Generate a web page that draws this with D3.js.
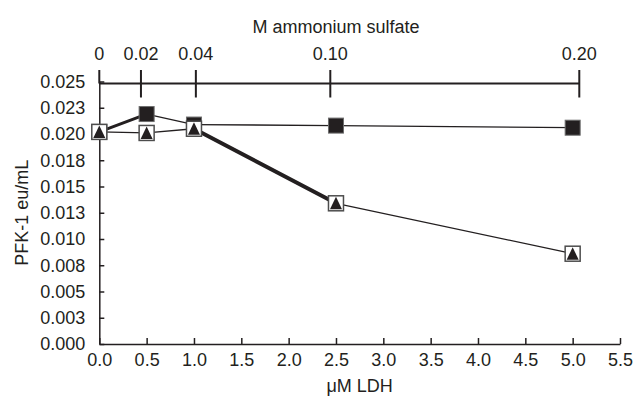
<!DOCTYPE html>
<html>
<head>
<meta charset="utf-8">
<script src="https://cdn.jsdelivr.net/npm/d3@7"></script>
<style>
	body { margin: 0; background: #fff; }
	text { font-family: "Liberation Sans", Arial, sans-serif; fill: #231f20; }
</style>
</head>
<body>
<div id="chart"></div>
<script>
// values
var ldh = [0, 0.5, 1.0, 2.5, 5.0];
var filledSquares = [0.0202, 0.0219, 0.0209, 0.0208, 0.0206];
var openSquares = [0.0202, 0.0201, 0.0205, 0.0134, 0.0086];
var triangles = [0.0202, 0.0201, 0.0205, 0.0134, 0.0086];

var sulfateTicks = [0, 0.02, 0.04, 0.10, 0.20];
var sulfateLabels = ["0", "0.02", "0.04", "0.10", "0.20"];
var sulfateAtLdh = [0, 0.44, 1.02, 2.44, 5.07];

var xTicks = [0, 0.5, 1.0, 1.5, 2.0, 2.5, 3.0, 3.5, 4.0, 4.5, 5.0, 5.5];
var xTickLabels = ["0.0", "0.5", "1.0", "1.5", "2.0", "2.5", "3.0", "3.5", "4.0", "4.5", "5.0", "5.5"];
var yTicks = [0, 0.0025, 0.005, 0.0075, 0.01, 0.0125, 0.015, 0.0175, 0.02, 0.0225, 0.025];
var yTickLabels = ["0.000", "0.003", "0.005", "0.008", "0.010", "0.013", "0.015", "0.018", "0.020", "0.023", "0.025"];

var ink = "#231f20";
var thin = 1.3;
// a few segments are printed heavier in the original
var segWidths = {
	filled: [3, thin, thin, thin],
	open: [thin, thin, 4, thin]
};

var width = 635, height = 399;

var svg = d3.select("#chart")
			.append("svg")
				.attr("width", width)
				.attr("height", height);

var xScale = d3.scaleLinear()
				.domain([0, 5.5])
				.range([99.3, 620]);

var yScale = d3.scaleLinear()
				.domain([0, 0.025])
				.range([344, 81.5]);

// ammonium sulfate concentrations sit over the LDH points
var sScale = d3.scaleLinear()
				.domain(sulfateTicks)
				.range(sulfateAtLdh.map(function(d){ return xScale(d); }));

// bottom axis
svg.append("g")
	.attr("transform", "translate(0," + yScale(0) + ")")
	.call(d3.axisBottom(xScale)
		.tickValues(xTicks)
		.tickFormat(function(d, i){ return xTickLabels[i]; })
		.tickSizeInner(-6)
		.tickSizeOuter(0)
		.tickPadding(9));

// left axis
svg.append("g")
	.attr("transform", "translate(" + xScale(0) + ",0)")
	.call(d3.axisLeft(yScale)
		.tickValues(yTicks)
		.tickFormat(function(d, i){ return yTickLabels[i]; })
		.tickSizeInner(-5)
		.tickSizeOuter(0)
		.tickPadding(14));

svg.selectAll(".tick text")
	.style("font-size", "18px")
	.style("font-family", "'Liberation Sans', Arial, sans-serif")
	.attr("fill", ink);
svg.selectAll(".domain, .tick line")
	.attr("stroke", ink)
	.attr("stroke-width", 1.5);

// top axis (ammonium sulfate)
var topY = 83.5;
var topAxis = svg.append("g");
topAxis.append("line")
	.attr("x1", sScale(0))
	.attr("x2", sScale(0.20))
	.attr("y1", topY)
	.attr("y2", topY)
	.attr("stroke", ink)
	.attr("stroke-width", 2);

topAxis.selectAll("ticks")
	.data(sulfateTicks)
	.enter()
	.append("line")
		.attr("x1", function(d){ return sScale(d); })
		.attr("x2", function(d){ return sScale(d); })
		.attr("y1", topY - 13.5)
		.attr("y2", function(d, i){ return i == 0 ? topY : topY + 14; })
		.attr("stroke", ink)
		.attr("stroke-width", 2);

topAxis.selectAll("labels")
	.data(sulfateTicks)
	.enter()
	.append("text")
		.attr("x", function(d){ return sScale(d); })
		.attr("y", 60)
		.attr("text-anchor", "middle")
		.style("font-size", "18px")
		.text(function(d, i){ return sulfateLabels[i]; });

// axis titles
svg.append("text")
	.attr("x", 336)
	.attr("y", 33)
	.attr("text-anchor", "middle")
	.style("font-size", "18px")
	.text("M ammonium sulfate");

svg.append("text")
	.attr("x", (xScale(0) + xScale(5.5)) / 2)
	.attr("y", 392)
	.attr("text-anchor", "middle")
	.style("font-size", "18px")
	.text("\u03bcM LDH");

svg.append("text")
	.attr("transform", "translate(28," + (yScale(0) + yScale(0.025)) / 2 + ") rotate(-90)")
	.attr("text-anchor", "middle")
	.style("font-size", "18px")
	.text("PFK-1 eu/mL");

// connecting lines, segment by segment
function drawSegments(values, widths){
	var pts = ldh.map(function(x, i){ return [x, values[i]]; });
	svg.append("g")
		.selectAll("line")
		.data(d3.pairs(pts))
		.enter()
		.append("line")
			.attr("x1", function(d){ return xScale(d[0][0]); })
			.attr("y1", function(d){ return yScale(d[0][1]); })
			.attr("x2", function(d){ return xScale(d[1][0]); })
			.attr("y2", function(d){ return yScale(d[1][1]); })
			.attr("stroke", ink)
			.attr("stroke-width", function(d, i){ return widths[i]; })
			.attr("stroke-linecap", "round");
}
drawSegments(filledSquares, segWidths.filled);
drawSegments(openSquares, segWidths.open);

var s = 15;

// filled squares
svg.append("g")
	.selectAll("rect")
	.data(filledSquares)
	.enter()
	.append("rect")
		.attr("x", function(d, i){ return xScale(ldh[i]) - s / 2; })
		.attr("y", function(d){ return yScale(d) - s / 2; })
		.attr("width", s)
		.attr("height", s)
		.attr("fill", ink)
		.attr("stroke", "#6d6d6d")
		.attr("stroke-width", 1);

// open squares
svg.append("g")
	.selectAll("rect")
	.data(openSquares)
	.enter()
	.append("rect")
		.attr("x", function(d, i){ return xScale(ldh[i]) - s / 2; })
		.attr("y", function(d){ return yScale(d) - s / 2; })
		.attr("width", s)
		.attr("height", s)
		.attr("fill", "#fff")
		.attr("stroke", "#4d4d4d")
		.attr("stroke-width", 1.5);

// triangles
svg.append("g")
	.selectAll("path")
	.data(triangles)
	.enter()
	.append("path")
		.attr("d", function(d, i){
			var cx = xScale(ldh[i]), cy = yScale(d);
			return "M" + (cx - 6) + "," + (cy + 6) + "L" + (cx + 6) + "," + (cy + 6) + "L" + cx + "," + (cy - 6.5) + "Z";
		})
		.attr("fill", ink);
</script>
</body>
</html>
